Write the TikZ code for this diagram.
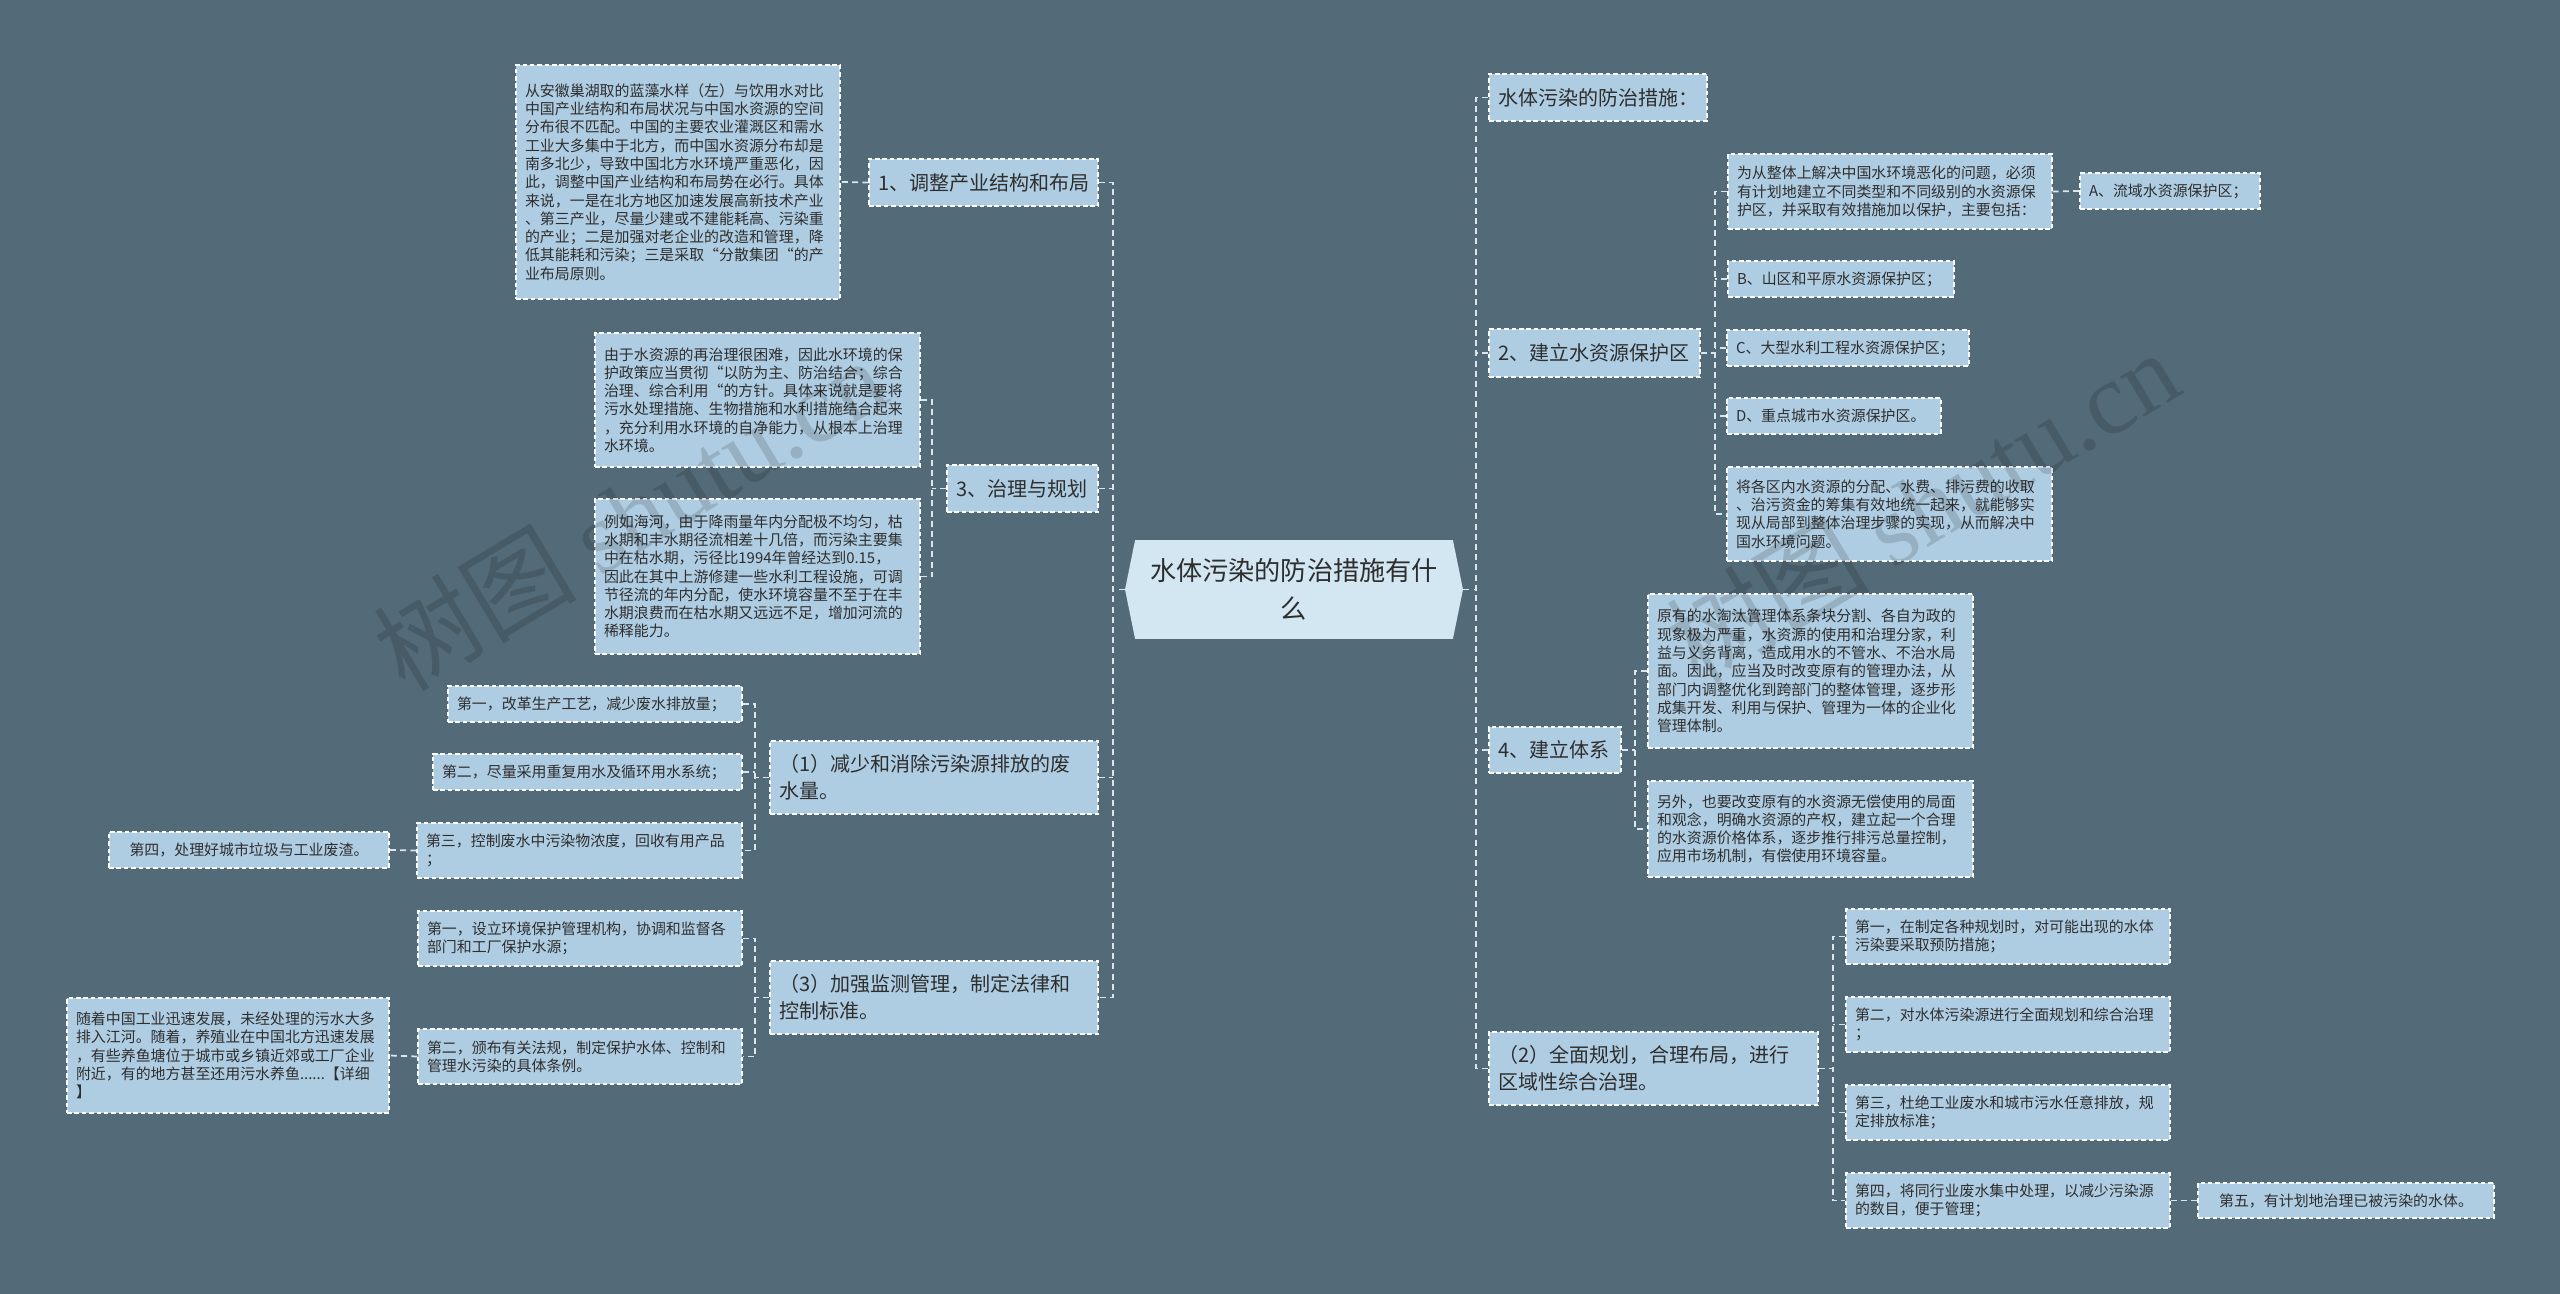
\documentclass[tikz,border=0pt]{standalone}
\usepackage{fontspec}
\setmainfont{Noto Sans CJK SC}
\newfontfamily\wmlatin{Liberation Serif}
\usetikzlibrary{shapes.symbols}
\definecolor{cbg}{HTML}{536A79}
\definecolor{cbox}{HTML}{AFCDE2}
\definecolor{croot}{HTML}{D3E7F3}
\definecolor{ctext}{HTML}{2E2E2E}
\definecolor{clink}{HTML}{DCE5EC}
\tikzset{
  box/.style={draw=white, fill=cbox, text=ctext, line width=0.8pt, dash pattern=on 2.6pt off 1.6pt,
    inner xsep=0.18cm, inner ysep=0pt, align=left},
  sz/.style 2 args={text width=#1, minimum height=#2},
  leaf/.style={box, font=\fontsize{8.5}{10.4}\selectfont},
  topic/.style={box, font=\fontsize{11.4}{15.4}\selectfont},
  root/.style={shape=signal, signal to=east and west, signal pointer angle=157, fill=croot,
    text=ctext, font=\fontsize{14.9}{21.6}\selectfont, align=center, inner sep=0pt,
    minimum width=6.76cm, minimum height=1.98cm},
  link/.style={draw=clink, line width=1pt, dash pattern=on 3.4pt off 2.4pt},
  wm/.style={text=black, opacity=0.14, rotate=31, font=\fontsize{58}{60}\selectfont},
}

\begin{document}
\begin{tikzpicture}[x=0.02cm, y=-0.02cm]
  \useasboundingbox (0,0) rectangle (2560,1294);
  \fill[cbg] (0,0) rectangle (2560,1294);

  \node[root] (root) at (1294,589.5) {水体污染的防治措施有什\\么};

  % left half
  \node[topic, sz={4.22cm}{0.94cm}] (n1) at (983.5,182.5) {1、调整产业结构和布局};
  \node[leaf, sz={6.12cm}{4.68cm}] (t1) at (678,182) {从安徽巢湖取的蓝藻水样（左）与饮用水对比\\中国产业结构和布局状况与中国水资源的空间\\分布很不匹配。中国的主要农业灌溉区和需水\\工业大多集中于北方，而中国水资源分布却是\\南多北少，导致中国北方水环境严重恶化，因\\此，调整中国产业结构和布局势在必行。具体\\来说，一是在北方地区加速发展高新技术产业\\、第三产业，尽量少建或不建能耗高、污染重\\的产业；二是加强对老企业的改造和管理，降\\低其能耗和污染；三是采取“分散集团“的产\\业布局原则。};
  \node[topic, sz={2.66cm}{0.94cm}] (n3) at (1022.5,488.5) {3、治理与规划};
  \node[leaf, sz={6.14cm}{2.68cm}] (t3a) at (757.5,400) {由于水资源的再治理很困难，因此水环境的保\\护政策应当贯彻“以防为主、防治结合；综合\\治理、综合利用“的方针。具体来说就是要将\\污水处理措施、生物措施和水利措施结合起来\\，充分利用水环境的自净能力，从根本上治理\\水环境。};
  \node[leaf, sz={6.14cm}{3.1cm}] (t3b) at (757.5,576.5) {例如海河，由于降雨量年内分配极不均匀，枯\\水期和丰水期径流相差十几倍，而污染主要集\\中在枯水期，污径比1994年曾经达到0.15，\\因此在其中上游修建一些水利工程设施，可调\\节径流的年内分配，使水环境容量不至于在丰\\水期浪费而在枯水期又远远不足，增加河流的\\稀释能力。};
  \node[topic, sz={6.2cm}{1.46cm}] (n1b) at (934,777.5) {（1）减少和消除污染源排放的废\\水量。};
  \node[leaf, sz={5.52cm}{0.72cm}] (l11) at (595,704) {第一，改革生产工艺，减少废水排放量；};
  \node[leaf, sz={5.82cm}{0.72cm}] (l12) at (587.5,772) {第二，尽量采用重复用水及循环用水系统；};
  \node[leaf, sz={6.14cm}{1.1cm}] (l13) at (579.5,850.5) {第三，控制废水中污染物浓度，回收有用产品\\；};
  \node[leaf, sz={5.24cm}{0.72cm}, align=center] (l14) at (249,850) {第四，处理好城市垃圾与工业废渣。};
  \node[topic, sz={6.2cm}{1.46cm}] (n3b) at (934,997.5) {（3）加强监测管理，制定法律和\\控制标准。};
  \node[leaf, sz={6.12cm}{1.1cm}] (l31) at (580,938.5) {第一，设立环境保护管理机构，协调和监督各\\部门和工厂保护水源；};
  \node[leaf, sz={6.12cm}{1.1cm}] (l32) at (580,1056.5) {第二，颁布有关法规，制定保护水体、控制和\\管理水污染的具体条例。};
  \node[leaf, sz={6.08cm}{2.3cm}] (l321) at (228,1055.5) {随着中国工业迅速发展，未经处理的污水大多\\排入江河。随着，养殖业在中国北方迅速发展\\，有些养鱼塘位于城市或乡镇近郊或工厂企业\\附近，有的地方甚至还用污水养鱼......【详细\\】};

  % right half
  \node[topic, sz={4.0cm}{0.94cm}] (r0) at (1598,97.5) {水体污染的防治措施：};
  \node[topic, sz={3.86cm}{0.96cm}] (r2) at (1594.5,353) {2、建立水资源保护区};
  \node[leaf, sz={6.12cm}{1.5cm}] (r2a) at (1890,191.5) {为从整体上解决中国水环境恶化的问题，必须\\有计划地建立不同类型和不同级别的水资源保\\护区，并采取有效措施加以保护，主要包括：};
  \node[leaf, sz={3.24cm}{0.72cm}] (r2aa) at (2170,191) {A、流域水资源保护区；};
  \node[leaf, sz={4.16cm}{0.72cm}] (r2b) at (1841,279) {B、山区和平原水资源保护区；};
  \node[leaf, sz={4.48cm}{0.72cm}] (r2c) at (1848,348) {C、大型水利工程水资源保护区；};
  \node[leaf, sz={3.92cm}{0.72cm}] (r2d) at (1834,416) {D、重点城市水资源保护区。};
  \node[leaf, sz={6.14cm}{1.88cm}] (r2e) at (1889.5,514) {将各区内水资源的分配、水费、排污费的收取\\、治污资金的筹集有效地统一起来，就能够实\\现从局部到整体治理步骤的实现，从而解决中\\国水环境问题。};
  \node[topic, sz={2.28cm}{0.92cm}] (r4) at (1555,750) {4、建立体系};
  \node[leaf, sz={6.14cm}{3.08cm}] (r4a) at (1810.5,671) {原有的水淘汰管理体系条块分割、各自为政的\\现象极为严重，水资源的使用和治理分家，利\\益与义务背离，造成用水的不管水、不治水局\\面。因此，应当及时改变原有的管理办法，从\\部门内调整优化到跨部门的整体管理，逐步形\\成集开发、利用与保护、管理为一体的企业化\\管理体制。};
  \node[leaf, sz={6.14cm}{1.92cm}] (r4b) at (1810.5,829) {另外，也要改变原有的水资源无偿使用的局面\\和观念，明确水资源的产权，建立起一个合理\\的水资源价格体系，逐步推行排污总量控制，\\应用市场机制，有偿使用环境容量。};
  \node[topic, sz={6.22cm}{1.46cm}] (r5) at (1653.5,1068.5) {（2）全面规划，合理布局，进行\\区域性综合治理。};
  \node[leaf, sz={6.12cm}{1.1cm}] (r51) at (2008,936.5) {第一，在制定各种规划时，对可能出现的水体\\污染要采取预防措施；};
  \node[leaf, sz={6.12cm}{1.1cm}] (r52) at (2008,1024.5) {第二，对水体污染源进行全面规划和综合治理\\；};
  \node[leaf, sz={6.12cm}{1.1cm}] (r53) at (2008,1112.5) {第三，杜绝工业废水和城市污水任意排放，规\\定排放标准；};
  \node[leaf, sz={6.12cm}{1.1cm}] (r54) at (2008,1200.5) {第四，将同行业废水集中处理，以减少污染源\\的数目，便于管理；};
  \node[leaf, sz={5.56cm}{0.7cm}, align=center] (r541) at (2346,1200.5) {第五，有计划地治理已被污染的水体。};

  % connectors, left
  \coordinate (lt) at ([xshift=-0.24cm]root.west);
  \draw[link] (n1.east) -| (lt) |- (n3b.east);
  \draw[link] (root.west) -- (lt);
  \draw[link] (n3.east) -- (n3.east -| lt);
  \draw[link] (n1b.east) -- (n1b.east -| lt);
  \draw[link] (n1.west) -- (t1.east);
  \coordinate (b3) at ([xshift=-0.28cm]n3.west);
  \draw[link] (t3a.east) -| (b3) |- (t3b.east);
  \draw[link] (n3.west) -- (b3);
  \coordinate (b1) at ([xshift=-0.28cm]n1b.west);
  \draw[link] (l11.east) -| (b1) |- (l13.east);
  \draw[link] (n1b.west) -- (b1);
  \draw[link] (l12.east) -- (l12.east -| b1);
  \draw[link] (l13.west) -- (l14.east);
  \coordinate (b5) at ([xshift=-0.28cm]n3b.west);
  \draw[link] (l31.east) -| (b5) |- (l32.east);
  \draw[link] (n3b.west) -- (b5);
  \draw[link] (l32.west) -- (l321.east);

  % connectors, right
  \coordinate (rt) at ([xshift=0.26cm]root.east);
  \draw[link] (r0.west) -| (rt) |- (r5.west);
  \draw[link] (root.east) -- (rt);
  \draw[link] (r2.west) -- (r2.west -| rt);
  \draw[link] (r4.west) -- (r4.west -| rt);
  \coordinate (b2) at ([xshift=0.28cm]r2.east);
  \draw[link] (r2a.west) -| (b2) |- (r2e.west);
  \draw[link] (r2.east) -- (b2);
  \draw[link] (r2b.west) -- (r2b.west -| b2);
  \draw[link] (r2c.west) -- (r2c.west -| b2);
  \draw[link] (r2d.west) -- (r2d.west -| b2);
  \draw[link] (r2a.east) -- (r2aa.west);
  \coordinate (b4) at ([xshift=0.26cm]r4.east);
  \draw[link] (r4a.west) -| (b4) |- (r4b.west);
  \draw[link] (r4.east) -- (b4);
  \coordinate (b6) at ([xshift=0.28cm]r5.east);
  \draw[link] (r51.west) -| (b6) |- (r54.west);
  \draw[link] (r5.east) -- (b6);
  \draw[link] (r52.west) -- (r52.west -| b6);
  \draw[link] (r53.west) -- (r53.west -| b6);
  \draw[link] (r54.east) -- (r541.west);

  \node[wm] (wm1) at (629,514) {树图 {\wmlatin shutu.cn}};
  \node[wm] (wm2) at (1922,506) {树图 {\wmlatin shutu.cn}};
\end{tikzpicture}
\end{document}
